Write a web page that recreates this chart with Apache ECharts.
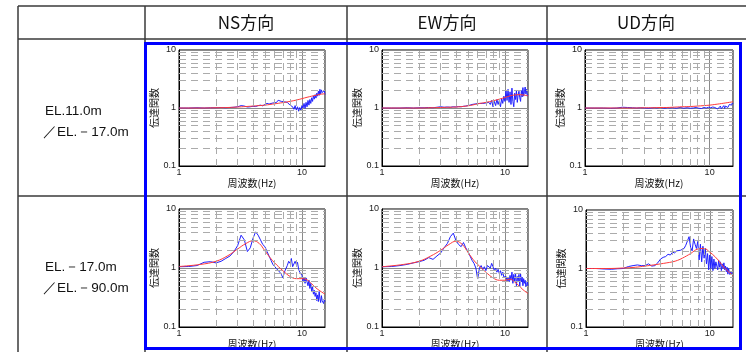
<!DOCTYPE html>
<html>
<head>
<meta charset="utf-8">
<script src="https://cdn.jsdelivr.net/npm/echarts@6/dist/echarts.min.js"></script>
<style>
  html, body { margin: 0; padding: 0; background: #fff; }
  #chart { width: 746px; height: 352px; }
</style>
</head>
<body>
<div id="chart"></div>
<script>
// column / row headings
const colTitles = ['NS方向', 'EW方向', 'UD方向']
const rowTitles = [['EL.11.0m', '／EL.－17.0m'], ['EL.－17.0m', '／EL.－90.0m']]

// grid values
const xGridMinor = [2, 3, 4, 5, 6, 7, 8, 9]
const yGridMinor = [0.2, 0.3, 0.4, 0.5, 0.6, 0.7, 0.8, 0.9, 2, 3, 4, 5, 6, 7, 8, 9]

// observed (blue) frequencies, Hz
const freqObs = [
  1.0, 1.2, 1.4, 1.6, 1.8, 2.0, 2.2, 2.4, 2.6, 2.8,
  3.0, 3.2, 3.4, 3.6, 3.8, 4.0, 4.2, 4.4, 4.6, 4.8,
  5.0, 5.2, 5.4, 5.6, 5.8, 6.0, 6.2, 6.4, 6.6, 6.8,
  7.0, 7.2, 7.4, 7.6, 7.8, 8.0, 8.2, 8.4, 8.6, 8.8,
  9.0, 9.2, 9.4, 9.6, 9.8, 10.0, 10.2, 10.4, 10.6, 10.8,
  11.0, 11.2, 11.4, 11.6, 11.8, 12.0, 12.2, 12.4, 12.6, 12.8,
  13.0, 13.2, 13.4, 13.6, 13.8, 14.0, 14.2, 14.4, 14.6, 14.8,
  15.0, 15.2, 15.4
]
// model (red) frequencies, Hz
const freqModel = [1, 1.5, 2, 2.5, 3, 3.5, 4, 4.5, 5, 5.5, 6, 7, 8, 9, 10, 11, 12, 13, 14, 15.4]

// EL.11.0m / EL.-17.0m
const obsNS1 = [
  1.00, 1.00, 1.01, 1.00, 1.01, 1.01, 1.02, 1.01, 1.02, 1.03,
  1.05, 1.10, 1.08, 1.04, 1.05, 1.07, 1.06, 1.10, 1.12, 1.09,
  1.15, 1.20, 1.17, 1.26, 1.22, 1.30, 1.24, 1.36, 1.45, 1.30,
  1.38, 1.28, 1.34, 1.25, 1.22, 1.12, 1.18, 1.05, 0.95, 1.10,
  0.92, 1.05, 0.88, 1.02, 0.90, 1.10, 1.00, 1.20, 0.98, 1.25,
  1.05, 1.35, 1.12, 1.40, 1.20, 1.50, 1.30, 1.62, 1.42, 1.70,
  1.48, 1.80, 1.60, 1.95, 1.65, 2.10, 1.75, 2.05, 1.85, 1.95,
  1.80, 2.00, 1.70
]
const modelNS1 = [1.00, 1.00, 1.01, 1.02, 1.04, 1.06, 1.08, 1.10, 1.12, 1.15, 1.18, 1.24, 1.30, 1.37, 1.45, 1.53, 1.60, 1.66, 1.72, 1.76]

const obsEW1 = [
  1.00, 1.00, 1.00, 1.01, 1.00, 1.01, 1.01, 1.02, 1.01, 1.03,
  1.05, 1.03, 1.04, 1.03, 1.05, 1.04, 1.06, 1.05, 1.07, 1.08,
  1.10, 1.12, 1.15, 1.20, 1.18, 1.22, 1.20, 1.28, 1.20, 1.26,
  1.22, 1.30, 1.25, 1.15, 1.35, 1.05, 1.30, 1.10, 1.40, 1.15,
  1.35, 1.05, 1.45, 1.20, 1.60, 1.30, 2.00, 1.35, 2.10, 1.25,
  1.90, 1.15, 2.20, 1.30, 1.05, 1.80, 1.40, 2.00, 1.25, 1.70,
  1.95, 1.50, 1.30, 2.00, 1.55, 2.25, 1.60, 1.90, 2.30, 1.75,
  2.10, 1.60, 1.70
]
const modelEW1 = [1.00, 1.00, 1.00, 1.01, 1.02, 1.03, 1.04, 1.06, 1.09, 1.13, 1.18, 1.25, 1.33, 1.42, 1.52, 1.62, 1.68, 1.70, 1.68, 1.63]

const obsUD1 = [
  1.00, 1.00, 1.00, 0.99, 1.00, 1.03, 1.02, 1.01, 1.00, 1.01,
  1.00, 0.99, 1.00, 1.01, 1.00, 1.02, 1.00, 0.99, 1.01, 1.00,
  1.01, 1.00, 0.99, 1.00, 1.02, 1.01, 0.99, 1.00, 1.01, 1.00,
  0.99, 1.01, 1.00, 0.98, 1.02, 1.00, 0.99, 1.01, 0.98, 1.00,
  1.02, 0.97, 1.00, 0.98, 1.03, 0.96, 1.01, 0.99, 1.04, 0.97,
  1.02, 0.98, 1.05, 0.96, 1.03, 1.00, 1.08, 0.97, 1.05, 1.02,
  1.10, 0.98, 1.08, 1.04, 1.12, 1.02, 1.10, 1.15, 1.08, 1.20,
  1.12, 1.22, 1.18
]
const modelUD1 = [1.00, 1.00, 1.00, 1.00, 1.01, 1.01, 1.02, 1.02, 1.03, 1.04, 1.05, 1.06, 1.08, 1.10, 1.12, 1.15, 1.18, 1.21, 1.24, 1.28]

// EL.-17.0m / EL.-90.0m
const obsNS2 = [
  1.05, 1.06, 1.10, 1.25, 1.28, 1.22, 1.30, 1.45, 1.60, 1.90,
  2.40, 3.60, 3.00, 1.90, 2.20, 3.20, 4.10, 3.60, 3.00, 2.50,
  2.30, 1.90, 1.60, 1.35, 1.15, 1.10, 0.98, 0.95, 0.85, 0.78,
  0.68, 0.85, 0.80, 1.10, 1.30, 1.20, 1.45, 1.05, 1.00, 1.30,
  1.15, 1.25, 0.95, 0.85, 0.80, 0.75, 0.60, 0.70, 0.55, 0.68,
  0.72, 0.50, 0.62, 0.45, 0.55, 0.40, 0.48, 0.36, 0.42, 0.33,
  0.38, 0.28, 0.35, 0.27, 0.40, 0.30, 0.26, 0.34, 0.28, 0.30,
  0.25, 0.29, 0.27
]
const modelNS2 = [1.06, 1.15, 1.30, 1.62, 2.10, 2.60, 2.90, 2.60, 1.95, 1.50, 1.22, 0.90, 0.72, 0.66, 0.66, 0.63, 0.54, 0.46, 0.41, 0.36]

const obsEW2 = [
  1.05, 1.06, 1.10, 1.15, 1.22, 1.28, 1.35, 1.50, 1.40, 1.60,
  1.80, 2.20, 2.60, 3.40, 3.90, 2.90, 2.50, 2.30, 2.70, 2.20,
  1.90, 1.60, 1.35, 1.20, 1.00, 0.65, 1.00, 1.10, 0.95, 1.05,
  0.90, 1.10, 1.15, 1.00, 1.20, 1.05, 0.90, 1.00, 0.85, 0.95,
  0.80, 0.90, 0.75, 0.85, 0.70, 0.65, 0.72, 0.60, 0.70, 0.58,
  0.75, 0.62, 0.85, 0.55, 0.78, 0.60, 0.80, 0.50, 0.72, 0.60,
  0.78, 0.48, 0.80, 0.58, 0.70, 0.50, 0.66, 0.55, 0.62, 0.48,
  0.52, 0.60, 0.50
]
const modelEW2 = [1.05, 1.15, 1.30, 1.60, 2.00, 2.50, 2.85, 2.50, 1.85, 1.40, 1.15, 0.85, 0.68, 0.62, 0.62, 0.65, 0.58, 0.50, 0.43, 0.37]

const obsUD2 = [
  1.00, 1.00, 0.98, 0.97, 0.99, 1.00, 1.08, 1.12, 1.15, 1.12,
  1.12, 1.20, 1.10, 1.12, 1.25, 1.45, 1.55, 1.60, 1.75, 1.70,
  1.90, 1.85, 2.00, 1.95, 2.05, 2.10, 2.20, 2.50, 2.40, 3.50,
  2.30, 2.00, 3.20, 2.60, 2.20, 2.90, 1.40, 2.60, 1.30, 2.40,
  1.50, 2.20, 1.20, 1.80, 0.95, 1.70, 1.00, 1.60, 0.92, 1.45,
  1.00, 1.30, 1.10, 0.95, 1.40, 1.05, 1.30, 0.92, 1.20, 1.00,
  1.25, 0.95, 1.10, 0.88, 1.05, 0.80, 1.00, 0.85, 0.78, 0.90,
  0.80, 0.85, 0.78
]
const modelUD2 = [1.00, 1.00, 1.02, 1.05, 1.10, 1.15, 1.20, 1.25, 1.30, 1.38, 1.50, 1.80, 2.15, 2.20, 1.90, 1.60, 1.30, 1.05, 0.90, 0.76]

const panels = [
  { box: { left: 179, top: 50, width: 146, height: 116 }, yGap: 15, obs: obsNS1, model: modelNS1 },
  { box: { left: 382, top: 50, width: 146, height: 116 }, yGap: 13, obs: obsEW1, model: modelEW1 },
  { box: { left: 585, top: 50, width: 148, height: 116 }, yGap: 12, obs: obsUD1, model: modelUD1 },
  { box: { left: 179, top: 209, width: 146, height: 118 }, yGap: 15, obs: obsNS2, model: modelNS2 },
  { box: { left: 382, top: 209, width: 146, height: 118 }, yGap: 13, obs: obsEW2, model: modelEW2 },
  { box: { left: 586, top: 210, width: 147, height: 117 }, yGap: 12, obs: obsUD2, model: modelUD2 }
]

const labelFont = 'Liberation Sans, Arial, sans-serif'
const jpFont = '"Noto Sans CJK JP", sans-serif'

function decadeLabel(v) {
  const e = Math.round(Math.log10(v))
  if (Math.abs(Math.log10(v) - e) > 1e-6) return ''
  return String(+Math.pow(10, e).toFixed(1))
}

const grid = [], xAxis = [], yAxis = [], series = []
panels.forEach((p, i) => {
  grid.push({ ...p.box, show: true, borderColor: '#000', borderWidth: 1, backgroundColor: '#fff' })
  xAxis.push({
    type: 'log', logBase: 10, min: 1, max: 15.4, gridIndex: i,
    name: '周波数(Hz)', nameLocation: 'middle', nameGap: 11,
    nameTextStyle: { fontFamily: jpFont, fontSize: 10, color: '#111' },
    axisLine: { show: true, lineStyle: { color: '#000', width: 1 } },
    axisTick: { show: false },
    axisLabel: { formatter: decadeLabel, fontFamily: labelFont, fontSize: 9, color: '#222', margin: 2 },
    splitLine: { show: true, lineStyle: { color: '#8a8a8a', width: 1 } }
  })
  yAxis.push({
    type: 'log', logBase: 10, min: 0.1, max: 10, gridIndex: i,
    name: '伝達関数', nameLocation: 'middle', nameGap: p.yGap, nameRotate: 90,
    nameTextStyle: { fontFamily: jpFont, fontSize: 10, color: '#111' },
    axisLine: { show: true, lineStyle: { color: '#000', width: 1 } },
    axisTick: { show: false },
    axisLabel: { formatter: decadeLabel, fontFamily: labelFont, fontSize: 9, color: '#222', margin: 3 },
    splitLine: { show: true, lineStyle: { color: '#8a8a8a', width: 1 } }
  })
  // dashed minor grid
  series.push({
    type: 'line', xAxisIndex: i, yAxisIndex: i, data: [], z: 1, silent: true,
    markLine: {
      silent: true, symbol: ['none', 'none'], label: { show: false }, animation: false,
      lineStyle: { type: [7, 5], color: '#ababab', width: 1 },
      data: xGridMinor.map(v => ({ xAxis: v })).concat(yGridMinor.map(v => ({ yAxis: v })))
    }
  })
  series.push({
    type: 'line', xAxisIndex: i, yAxisIndex: i, z: 3,
    data: freqObs.map((f, k) => [f, p.obs[k]]),
    showSymbol: false, lineStyle: { color: '#1f1fff', width: 1 }
  })
  series.push({
    type: 'line', xAxisIndex: i, yAxisIndex: i, z: 4, smooth: 0.4,
    data: freqModel.map((f, k) => [f, p.model[k]]),
    showSymbol: false, lineStyle: { color: '#ff3a3a', width: 1 }
  })
})

const lineCol = '#3a3a3a'
function hLine(y) { return { type: 'line', shape: { x1: 18, y1: y, x2: 746, y2: y }, style: { stroke: lineCol, lineWidth: 1.5 } } }
function vLine(x) { return { type: 'line', shape: { x1: x, y1: 6, x2: x, y2: 352 }, style: { stroke: lineCol, lineWidth: 1.5 } } }

const graphic = [hLine(6), hLine(39), hLine(196), vLine(18), vLine(145), vLine(347), vLine(547)]
const colCenters = [246, 447, 646]
colTitles.forEach((t, i) => graphic.push({
  type: 'text',
  style: { text: t, x: colCenters[i], y: 23, font: '17px ' + jpFont, fill: '#111', align: 'center', verticalAlign: 'middle', textAlign: 'center', textVerticalAlign: 'middle' }
}))
const rowLineY = [[111, 132], [267, 288]]
rowTitles.forEach((lines, r) => lines.forEach((t, j) => graphic.push({
  type: 'text',
  style: { text: t, x: j === 0 ? 45 : 43, y: rowLineY[r][j], font: '13.5px ' + labelFont, fill: '#111', align: 'left', verticalAlign: 'middle', textAlign: 'left', textVerticalAlign: 'middle' }
})))
graphic.push({
  type: 'rect', z: 100,
  shape: { x: 145.5, y: 43.5, width: 595, height: 305 },
  style: { fill: 'none', stroke: '#0000ff', lineWidth: 3 }
})

const chart = echarts.init(document.getElementById('chart'))
chart.setOption({
  animation: false,
  backgroundColor: '#fff',
  grid, xAxis, yAxis, series, graphic
})
</script>
</body>
</html>
